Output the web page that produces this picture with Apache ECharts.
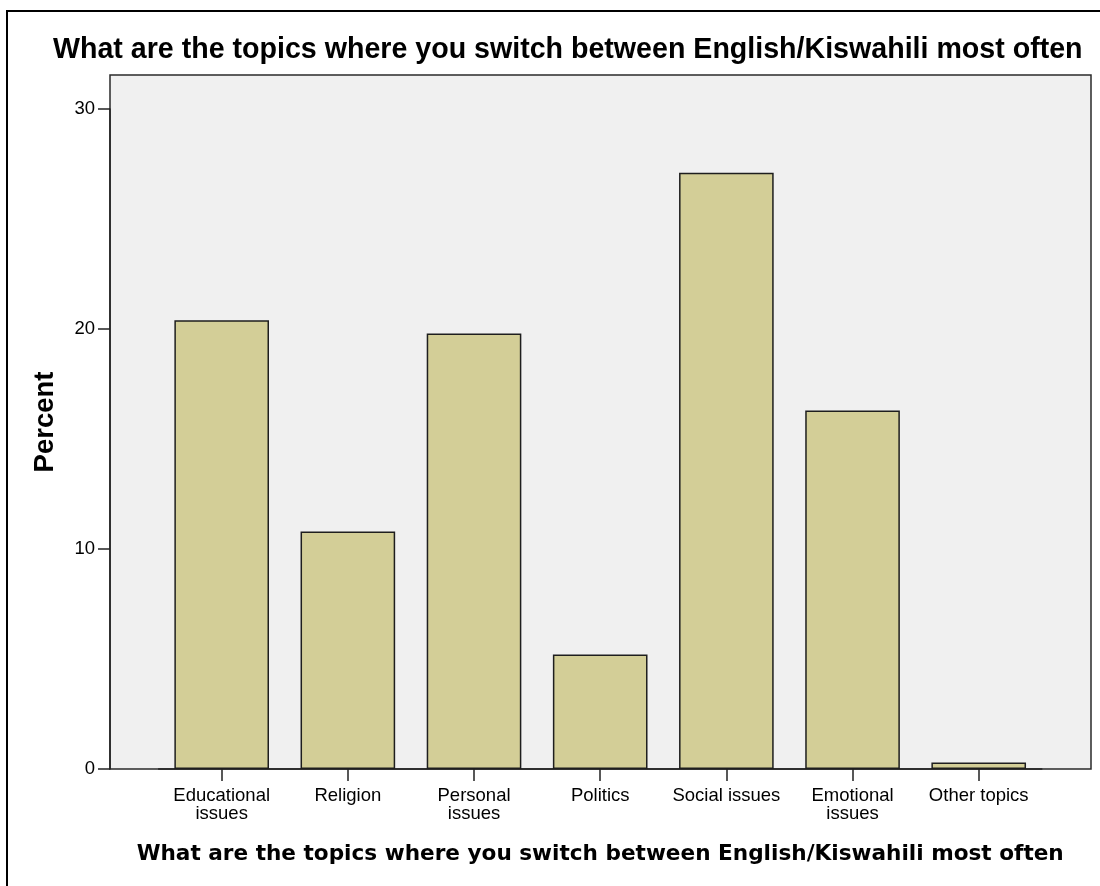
<!DOCTYPE html>
<html>
<head>
<meta charset="utf-8">
<script src="https://cdn.jsdelivr.net/npm/echarts@6/dist/echarts.min.js"></script>
<style>
  html, body { margin: 0; padding: 0; background: #fff; }
  #chart { width: 1100px; height: 886px; }
</style>
</head>
<body>
<div id="chart"></div>
<script>
const chartTitle = 'What are the topics where you switch between English/Kiswahili most often';
const xAxisTitle = 'What are the topics where you switch between English/Kiswahili most often';
const yAxisTitle = 'Percent';
const categories = ['Educational\nissues', 'Religion', 'Personal\nissues', 'Politics', 'Social issues', 'Emotional\nissues', 'Other topics'];
const percentValues = [20.4, 10.8, 19.8, 5.2, 27.1, 16.3, 0.3];
const yMin = 0;
const yMax = 30;
const yInterval = 10;

const chart = echarts.init(document.getElementById('chart'), null, { renderer: 'canvas' });
const option = {
  animation: false,
  backgroundColor: '#ffffff',
  graphic: [{
    type: 'rect',
    shape: { x: 7, y: 11, width: 1200, height: 1000 },
    style: { fill: 'none', stroke: '#000', lineWidth: 2 },
    silent: true
  }],
  title: {
    text: chartTitle,
    left: 53,
    top: 36,
    padding: 0,
    textStyle: { fontFamily: 'Liberation Sans', fontWeight: 'bold', fontSize: 28.6, color: '#000' }
  },
  grid: [
    { left: 110, right: 9, top: 75, bottom: 117, show: true, backgroundColor: '#f0f0f0', borderColor: '#2a2a2a', borderWidth: 1.5 },
    { left: 158.6, right: 58.2, top: 109, bottom: 117 }
  ],
  xAxis: [
    { gridIndex: 0, type: 'value', show: false, min: 0, max: 1 },
    {
      gridIndex: 1,
      type: 'category',
      data: categories,
      axisLine: { show: true, lineStyle: { color: '#222', width: 1.5 } },
      axisTick: { show: true, alignWithLabel: true, length: 12, lineStyle: { color: '#222', width: 1.5 } },
      axisLabel: { interval: 0, margin: 18, fontSize: 18.5, lineHeight: 18, color: '#000', fontFamily: 'Liberation Sans' },
      name: xAxisTitle,
      nameLocation: 'middle',
      nameGap: 74,
      nameTextStyle: { fontFamily: 'DejaVu Sans', fontWeight: 'bold', fontSize: 21.6, color: '#000' }
    }
  ],
  yAxis: [
    {
      gridIndex: 0, type: 'value', min: 0, max: 1,
      name: yAxisTitle, nameLocation: 'middle', nameGap: 51,
      nameTextStyle: { fontFamily: 'Liberation Sans', fontWeight: 'bold', fontSize: 27.5, color: '#000' },
      axisLine: { show: false }, axisTick: { show: false }, axisLabel: { show: false }, splitLine: { show: false }
    },
    {
      gridIndex: 1, type: 'value', min: yMin, max: yMax, interval: yInterval, offset: 48.6,
      axisLine: { show: true, lineStyle: { color: '#222', width: 1.5 } },
      axisTick: { show: true, length: 12, lineStyle: { color: '#222', width: 1.5 } },
      axisLabel: { margin: 15, fontSize: 18.5, color: '#000', fontFamily: 'Liberation Sans' },
      splitLine: { show: false }
    }
  ],
  series: [{
    type: 'bar',
    xAxisIndex: 1,
    yAxisIndex: 1,
    data: percentValues,
    barWidth: '75%',
    itemStyle: { color: '#d3ce97', borderColor: '#1e1e1e', borderWidth: 1.5 }
  }]
};
chart.setOption(option);
</script>
</body>
</html>
